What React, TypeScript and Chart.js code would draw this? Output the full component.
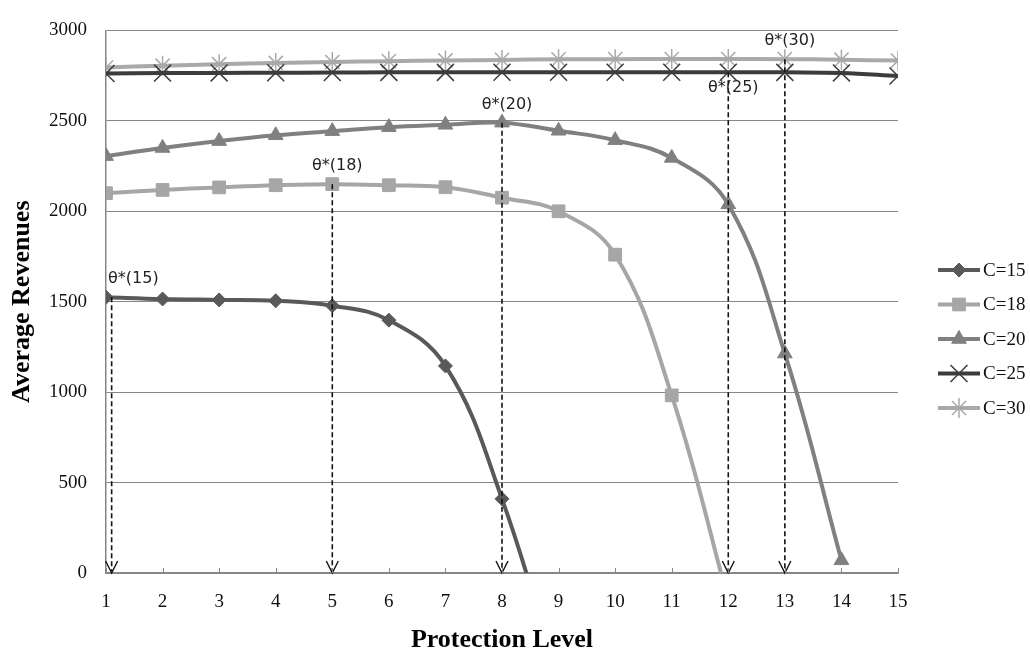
import React, { useEffect, useRef } from 'react';
import { Chart, registerables } from 'chart.js';
import * as helpers from 'chart.js/helpers';

Chart.register(...registerables);

// ---------- data ----------
const protectionLevels = [1, 2, 3, 4, 5, 6, 7, 8, 9, 10, 11, 12, 13, 14, 15];
const seriesLabels = ['C=15', 'C=18', 'C=20', 'C=25', 'C=30'];
// values below 0 are off-scale continuations (clipped at the axis)
const revenueC15 = [1525, 1515, 1510, 1505, 1478, 1398, 1145, 410, -600];
const revenueC18 = [2100, 2118, 2132, 2144, 2150, 2144, 2133, 2075, 2000, 1760, 982, -150];
const revenueC20 = [2305, 2350, 2388, 2420, 2443, 2465, 2478, 2490, 2445, 2393, 2295, 2038, 1213, 70];
const revenueC25 = [2762, 2764, 2765, 2766, 2767, 2768, 2768, 2769, 2769, 2769, 2769, 2769, 2768, 2765, 2748];
const revenueC30 = [2795, 2805, 2813, 2820, 2825, 2830, 2834, 2837, 2840, 2841, 2842, 2842, 2841, 2838, 2833];
const yAxisMin = 0;
const yAxisMax = 3000;
const yAxisStep = 500;
const optimumLabels = ['θ*(15)', 'θ*(18)', 'θ*(20)', 'θ*(25)', 'θ*(30)'];
const optimumLevel = [1.1, 5, 8, 12, 13];
const optimumRevenue = [1525, 2150, 2490, 2769, 2841];

// ---------- styles ----------
const seriesColors = ['#595959', '#a6a6a6', '#808080', '#3c3c3c', '#a9a9a9'];
const seriesPointStyles = ['rectRot', 'rect', 'triangle', 'crossRot', 'star'];
const seriesPointRadius = [7, 9, 8.5, 12, 10];
const seriesPointBorder = [1, 1, 1, 1.5, 1.5];
const labelPlacement = ['above', 'above', 'above', 'below', 'above'];

const allSeries = [revenueC15, revenueC18, revenueC20, revenueC25, revenueC30];

const serif = '"Liberation Serif", "Times New Roman", serif';
const sans = '"DejaVu Sans", Verdana, sans-serif';

const optimumPlugin = {
  id: 'optimumMarkers',
  afterDatasetsDraw(chart: any) {
    const { ctx, chartArea, scales } = chart;
    const xs = scales.x;
    const ys = scales.y;
    ctx.save();
    const bottom = ys.getPixelForValue(0);
    optimumLevel.forEach((lv, i) => {
      const px = xs.getPixelForValue(lv);
      const pTop = ys.getPixelForValue(optimumRevenue[i]);
      ctx.strokeStyle = '#111';
      ctx.lineWidth = 1.6;
      ctx.setLineDash([5, 3]);
      ctx.beginPath();
      ctx.moveTo(px, pTop);
      ctx.lineTo(px, bottom - 2);
      ctx.stroke();
      ctx.setLineDash([]);
      ctx.lineWidth = 1.4;
      ctx.beginPath();
      ctx.moveTo(px - 6, bottom - 12);
      ctx.lineTo(px, bottom);
      ctx.lineTo(px + 6, bottom - 12);
      ctx.stroke();
      // label
      ctx.font = `16px ${sans}`;
      ctx.fillStyle = '#222';
      ctx.textBaseline = 'middle';
      ctx.textAlign = 'left';
      const w = ctx.measureText(optimumLabels[i]).width;
      let left = px + 5 - w / 2;
      if (left < chartArea.left + 2) left = chartArea.left + 2;
      const cy = labelPlacement[i] === 'below' ? pTop + 16 : pTop - 18;
      ctx.fillText(optimumLabels[i], left, cy);
    });
    ctx.restore();
  },
  afterDraw(chart: any) {
    const { ctx, chartArea, scales } = chart;
    const xs = scales.x;
    ctx.save();
    // inner tick marks on the x axis
    ctx.strokeStyle = '#868686';
    ctx.lineWidth = 1;
    protectionLevels.forEach((lv) => {
      const px = Math.round(xs.getPixelForValue(lv)) + 0.5;
      ctx.beginPath();
      ctx.moveTo(px, chartArea.bottom - 5);
      ctx.lineTo(px, chartArea.bottom);
      ctx.stroke();
    });
    // legend
    const rowH = 34.5;
    const firstRow = 270;
    const lineStart = chartArea.right + 40;
    const lineEnd = lineStart + 42;
    chart.data.datasets.forEach((ds: any, i: number) => {
      const cy = firstRow + i * rowH;
      ctx.strokeStyle = ds.borderColor;
      ctx.lineWidth = 4;
      ctx.beginPath();
      ctx.moveTo(lineStart, cy);
      ctx.lineTo(lineEnd, cy);
      ctx.stroke();
      ctx.fillStyle = ds.pointBackgroundColor;
      ctx.strokeStyle = ds.pointBorderColor;
      ctx.lineWidth = ds.pointBorderWidth;
      helpers.drawPoint(ctx, {
        pointStyle: ds.pointStyle,
        radius: ds.legendRadius,
        borderWidth: ds.pointBorderWidth,
        rotation: 0,
      } as any, (lineStart + lineEnd) / 2, cy);
      ctx.font = `19px ${serif}`;
      ctx.fillStyle = '#111';
      ctx.textAlign = 'left';
      ctx.textBaseline = 'middle';
      ctx.fillText(ds.label, lineEnd + 3, cy + 1);
    });
    ctx.restore();
  },
};

export default function App() {
  const ref = useRef<HTMLCanvasElement>(null);
  useEffect(() => {
    document.body.style.margin = '0';
    const datasets = allSeries.map((vals, i) => ({
      label: seriesLabels[i],
      data: vals.map((v, k) => ({ x: protectionLevels[k], y: v })),
      borderColor: seriesColors[i],
      backgroundColor: seriesColors[i],
      pointBackgroundColor: seriesColors[i],
      pointBorderColor: seriesColors[i],
      pointBorderWidth: seriesPointBorder[i],
      pointStyle: seriesPointStyles[i],
      pointRadius: (c: any) => (c.raw && c.raw.y < 0 ? 0 : seriesPointRadius[i]),
      legendRadius: seriesPointRadius[i],
      borderWidth: 4,
      tension: 0.4,
      fill: false,
    }));
    const chart = new Chart(ref.current!, {
      type: 'line',
      data: { datasets } as any,
      plugins: [optimumPlugin],
      options: {
        responsive: false,
        animation: false,
        devicePixelRatio: 1,
        layout: { padding: { top: 18, right: 132, left: 0, bottom: 0 } },
        plugins: { legend: { display: false }, tooltip: { enabled: false } },
        scales: {
          x: {
            type: 'linear',
            min: 1,
            max: 15,
            afterFit: (s: any) => { s.height = 83; },
            ticks: {
              stepSize: 1,
              font: { family: serif, size: 19 },
              color: '#111',
              padding: 18,
              callback: (v: any) => String(v),
            },
            grid: { display: false, drawTicks: false },
            border: { display: true, color: '#868686', width: 1.5 },
            title: {
              display: true,
              text: 'Protection Level',
              font: { family: serif, size: 26, weight: 'bold' },
              color: '#000',
              padding: { top: 0, bottom: 0 },
            },
          },
          y: {
            min: yAxisMin,
            max: yAxisMax,
            afterFit: (s: any) => { s.width = 106; },
            ticks: {
              stepSize: yAxisStep,
              font: { family: serif, size: 19 },
              color: '#111',
              padding: 19,
              callback: (v: any) => String(v),
            },
            grid: { color: '#868686', lineWidth: 1, drawTicks: false },
            border: { display: true, color: '#868686', width: 1.5 },
            title: {
              display: true,
              text: 'Average Revenues',
              font: { family: serif, size: 26, weight: 'bold' },
              color: '#000',
              padding: { top: 7, bottom: 0 },
            },
          },
        },
      } as any,
    });
    return () => chart.destroy();
  }, []);
  return (
    <div style={{ width: 1030, height: 656 }}>
      <canvas ref={ref} width={1030} height={656} style={{ display: 'block' }} />
    </div>
  );
}
